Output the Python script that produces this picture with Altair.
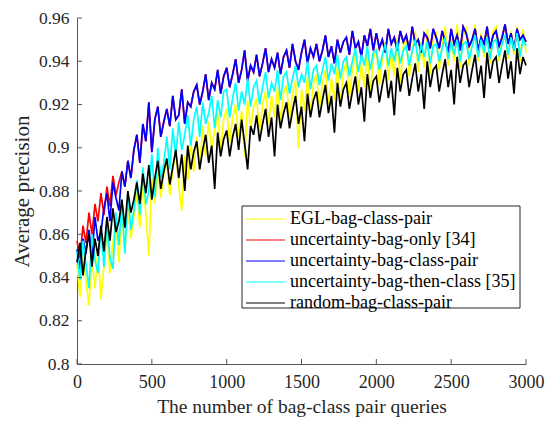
import altair as alt
import pandas as pd

NAMES = ["EGL-bag-class-pair", "uncertainty-bag-only [34]", "uncertainty-bag-class-pair",
         "uncertainty-bag-then-class [35]", "random-bag-class-pair"]
COLORS = ["#ffff00", "#ff0000", "#0000ff", "#00ffff", "#000000"]

QUERIES = list(range(0, 3001, 20))

# values in thousandths of average precision, read every 20 queries
EGL = [846, 831, 851, 838, 827, 849, 835, 853, 830, 845,
       861, 842, 856, 866, 847, 870, 852, 874, 858, 868,
       879, 863, 884, 870, 850, 886, 874, 891, 877, 888,
       894, 878, 890, 899, 882, 871, 896, 885, 903, 889,
       905, 890, 910, 896, 912, 900, 908, 916, 898, 913,
       918, 902, 914, 920, 905, 917, 896, 922, 909, 919,
       923, 907, 920, 926, 911, 924, 914, 928, 912, 925,
       929, 913, 925, 931, 900, 927, 917, 933, 915, 930,
       934, 918, 930, 936, 920, 932, 922, 938, 919, 935,
       940, 923, 936, 943, 926, 939, 928, 945, 925, 941,
       946, 929, 941, 949, 931, 944, 933, 951, 930, 947,
       950, 933, 945, 954, 935, 949, 937, 955, 934, 951,
       953, 936, 948, 956, 938, 951, 940, 957, 937, 952,
       955, 938, 949, 957, 940, 953, 942, 956, 939, 954,
       956, 940, 951, 957, 941, 954, 943, 956, 940, 955,
       944]

# only visible at the start; afterwards it lies under the blue curve
UNC_BAG_ONLY = [857, 849, 864, 856, 870, 860, 874, 866, 879, 869,
                882, 873, 887, 878, 884, 889, 882, 894, 886, 899,
                906, 893, 911, 903, 921, 898, 913, 919, 905, 912,
                918, 910, 924, 913, 915, 927, 911, 921, 919, 926,
                929, 920, 926, 934, 922, 930, 927, 936, 925, 933,
                937, 928, 934, 941, 930, 936, 945, 931, 938, 935,
                943, 933, 939, 946, 935, 941, 937, 944, 934, 942,
                945, 937, 948, 940, 936, 944, 950, 939, 946, 942,
                948, 940, 945, 952, 942, 947, 939, 950, 944, 949,
                951, 943, 954, 946, 949, 942, 952, 947, 955, 945,
                953, 946, 950, 944, 955, 948, 951, 945, 954, 949,
                952, 945, 956, 948, 950, 944, 953, 951, 946, 955,
                951, 946, 954, 949, 944, 955, 948, 952, 945, 956,
                953, 947, 950, 955, 945, 951, 948, 956, 946, 952,
                954, 947, 951, 957, 948, 953, 945, 955, 950, 952,
                949]

UNC_BAG_CLASS = [853, 844, 858, 851, 862, 849, 868, 857, 861, 872,
                 879, 866, 884, 877, 871, 889, 882, 894, 886, 899,
                 906, 893, 911, 903, 921, 898, 913, 919, 905, 912,
                 918, 910, 924, 913, 915, 927, 911, 921, 919, 926,
                 929, 920, 926, 934, 922, 930, 927, 936, 925, 933,
                 937, 928, 934, 941, 930, 936, 945, 931, 938, 935,
                 943, 933, 939, 946, 935, 941, 937, 944, 934, 942,
                 945, 937, 948, 940, 936, 944, 950, 939, 946, 942,
                 948, 940, 945, 952, 942, 947, 939, 950, 944, 949,
                 951, 943, 954, 946, 949, 942, 952, 947, 955, 945,
                 953, 946, 950, 944, 955, 948, 951, 945, 954, 949,
                 952, 945, 956, 948, 950, 944, 953, 951, 946, 955,
                 951, 946, 954, 949, 944, 955, 948, 952, 945, 956,
                 953, 947, 950, 955, 945, 951, 948, 956, 946, 952,
                 954, 947, 951, 957, 948, 953, 945, 955, 950, 952,
                 949]

UNC_BAG_THEN_CLASS = [852, 839, 857, 846, 835, 860, 848, 842, 863, 845,
                      866, 849, 844, 870, 855, 875, 851, 879, 862, 871,
                      885, 869, 891, 874, 880, 897, 877, 900, 886, 893,
                      905, 890, 909, 896, 912, 899, 906, 915, 901, 913,
                      919, 905, 921, 911, 916, 924, 909, 922, 914, 926,
                      927, 914, 923, 930, 917, 926, 920, 932, 919, 928,
                      931, 920, 928, 935, 923, 930, 926, 936, 922, 933,
                      935, 925, 932, 938, 928, 934, 930, 940, 927, 936,
                      938, 929, 936, 942, 931, 939, 934, 943, 932, 940,
                      942, 933, 940, 946, 935, 943, 938, 947, 936, 944,
                      945, 936, 943, 948, 938, 946, 940, 949, 939, 945,
                      947, 938, 945, 950, 940, 948, 942, 949, 939, 947,
                      948, 940, 946, 951, 941, 949, 943, 950, 940, 948,
                      949, 941, 947, 952, 942, 950, 944, 951, 941, 949,
                      950, 942, 948, 952, 943, 951, 945, 953, 942, 950,
                      947]

RANDOM = [847, 856, 841, 853, 860, 845, 858, 850, 864, 852,
          868, 857, 872, 861, 866, 876, 863, 880, 870, 876,
          884, 874, 888, 879, 892, 876, 886, 894, 881, 889,
          895, 883, 891, 899, 886, 897, 880, 901, 890, 898,
          903, 890, 899, 906, 893, 901, 881, 907, 896, 904,
          908, 896, 905, 911, 899, 913, 902, 890, 910, 906,
          915, 903, 911, 918, 905, 914, 896, 920, 909, 916,
          921, 909, 917, 924, 911, 919, 903, 925, 914, 922,
          926, 914, 922, 929, 916, 924, 907, 930, 919, 927,
          930, 918, 926, 933, 920, 928, 912, 934, 923, 931,
          933, 921, 929, 936, 923, 931, 915, 937, 926, 934,
          936, 924, 932, 939, 926, 934, 918, 940, 928, 936,
          938, 926, 934, 941, 928, 936, 920, 942, 930, 938,
          940, 928, 936, 943, 930, 938, 923, 944, 932, 940,
          942, 930, 938, 945, 932, 940, 925, 946, 934, 942,
          938]

SERIES = [EGL, UNC_BAG_ONLY, UNC_BAG_CLASS, UNC_BAG_THEN_CLASS, RANDOM]
for s in SERIES:
    assert len(s) == len(QUERIES), len(s)

Y_TICKS = [0.8, 0.82, 0.84, 0.86, 0.88, 0.9, 0.92, 0.94, 0.96]
X_TICKS = [0, 500, 1000, 1500, 2000, 2500, 3000]

rows = []
for name, vals in zip(NAMES, SERIES):
    for q, v in zip(QUERIES, vals):
        rows.append({"q": q, "ap": v / 1000.0, "series": name})
df = pd.DataFrame(rows)

FONT = "Liberation Serif"
TXT = "#262626"
AX = "#555555"
W, H = 449, 346
PAD_L, PAD_T = 69, 10

xscale = alt.Scale(domain=[0, 3000], nice=False, zero=False)
yscale = alt.Scale(domain=[0.8, 0.96], nice=False, zero=False)
cscale = alt.Scale(domain=NAMES, range=COLORS)

xaxis = alt.Axis(values=X_TICKS, format="d", tickSize=0, grid=False, labelFlush=False,
                 domainColor=AX, labelFont=FONT, labelFontSize=18, labelColor=TXT,
                 labelPadding=9, title="The number of bag-class pair queries",
                 titleFont=FONT, titleFontSize=19.5, titleFontWeight="normal",
                 titleColor=TXT, titlePadding=6)
yaxis = alt.Axis(values=Y_TICKS, format=".2~f", tickSize=0, grid=False, labelFlush=False,
                 domainColor=AX, labelFont=FONT, labelFontSize=17.5, labelColor=TXT,
                 labelPadding=8, title="Average precision",
                 titleFont=FONT, titleFontSize=21, titleFontWeight="normal",
                 titleColor=TXT, titlePadding=6)

base = alt.Chart(df)
layers = []
for name in NAMES:
    layers.append(
        base.transform_filter(alt.datum.series == name)
        .mark_line(strokeWidth=1.7)
        .encode(
            x=alt.X("q:Q", scale=xscale, axis=xaxis),
            y=alt.Y("ap:Q", scale=yscale, axis=yaxis),
            color=alt.Color("series:N", scale=cscale, legend=None),
        )
    )

yticks = alt.Chart(pd.DataFrame({"t": Y_TICKS})).mark_rule(color=AX, strokeWidth=1).encode(
    y=alt.Y("t:Q", scale=yscale, axis=yaxis), x=alt.value(0), x2=alt.value(5))
xticks = alt.Chart(pd.DataFrame({"t": X_TICKS})).mark_rule(color=AX, strokeWidth=1).encode(
    x=alt.X("t:Q", scale=xscale, axis=xaxis), y=alt.value(H), y2=alt.value(H - 5))

# legend (drawn inside the plot, MATLAB style)
legend_layers = [
    alt.Chart(alt.Data(values=[{"a": 0}])).mark_rect(
        fill="white", stroke="#262626", strokeWidth=1).encode(
        x=alt.value(165), x2=alt.value(443), y=alt.value(188), y2=alt.value(290))
]
for i, (name, col) in enumerate(zip(NAMES, COLORS)):
    d = alt.Data(values=[{"label": name}])
    ly = 201 + 21 * i
    legend_layers.append(
        alt.Chart(d).mark_rule(color=col, strokeWidth=1.2).encode(
            x=alt.value(169), x2=alt.value(208), y=alt.value(ly)))
    legend_layers.append(
        alt.Chart(d).mark_text(align="left", baseline="middle", font=FONT,
                               fontSize=18, color="#000000").encode(
            x=alt.value(213), y=alt.value(ly), text="label:N"))

chart = alt.layer(*layers, yticks, xticks, *legend_layers).properties(
    width=W, height=H,
    padding={"left": PAD_L, "top": PAD_T, "right": 537 - PAD_L - W, "bottom": 409 - PAD_T - H},
    autosize=alt.AutoSizeParams(type="none"),
    background="white",
).configure_view(stroke=None)

chart.save("out.html", embed_options={"renderer": "svg", "actions": False})
